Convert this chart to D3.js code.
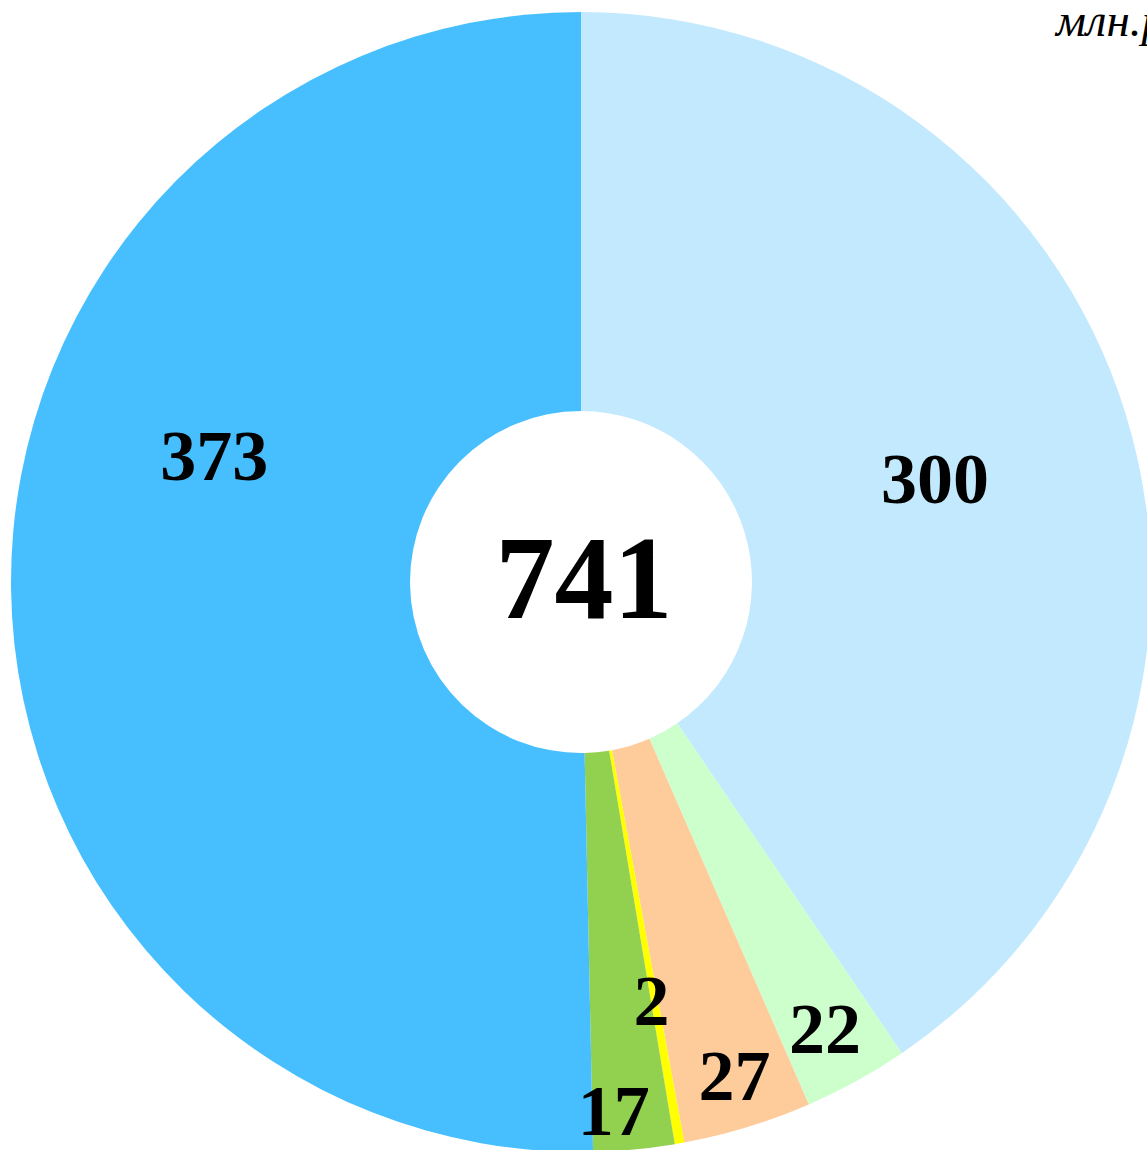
<!DOCTYPE html>
<html>
<head>
<meta charset="utf-8">
<script src="https://cdn.jsdelivr.net/npm/d3@7"></script>
<style>
  body { margin: 0; background: #fff; overflow: hidden; }
  svg { display: block; }
</style>
</head>
<body>
<div id="chart"></div>
<script>
// data
var values = [300, 22, 27, 2, 17, 373];
var colors = ["#C2E9FD", "#CCFFCC", "#FECB9B", "#FFFF00", "#92D050", "#47BFFF"];
var total = 741;
var unitLabel = "млн.руб.";

// label placement (radius from centre, angle nudge in degrees)
var labelRadius = [369, 508, 516, 424, 529, 388];
var labelNudge = [0.7, 0.2, -0.3, 0.4, 1.8, 19.7];

var width = 1147, height = 1150;
var cx = 581, cy = 582;
var outerR = 570, innerR = 171;

var svg = d3.select("#chart")
  .append("svg")
  .attr("width", width)
  .attr("height", height);

var g = svg.append("g")
  .attr("transform", "translate(" + cx + "," + cy + ")");

var pie = d3.pie().sort(null).value(function(d) { return d; });
var arc = d3.arc().innerRadius(innerR).outerRadius(outerR);

var arcs = pie(values);

g.selectAll("path")
  .data(arcs)
  .enter()
  .append("path")
  .attr("d", arc)
  .style("fill", function(d, i) { return colors[i]; });

// slice labels
g.selectAll("text.lbl")
  .data(arcs)
  .enter()
  .append("text")
  .attr("class", "lbl")
  .attr("x", function(d, i) {
    var a = (d.startAngle + d.endAngle) / 2 + labelNudge[i] * Math.PI / 180;
    return Math.sin(a) * labelRadius[i];
  })
  .attr("y", function(d, i) {
    var a = (d.startAngle + d.endAngle) / 2 + labelNudge[i] * Math.PI / 180;
    return -Math.cos(a) * labelRadius[i];
  })
  .attr("dy", "0.35em")
  .attr("text-anchor", "middle")
  .style("font-family", "'Liberation Serif', 'Times New Roman', serif")
  .style("font-weight", "bold")
  .style("font-size", "72px")
  .style("fill", "#000")
  .text(function(d) { return d.data; });

// total in the hole
g.append("text")
  .attr("x", 3)
  .attr("y", 36)
  .attr("text-anchor", "middle")
  .style("font-family", "'Liberation Serif', 'Times New Roman', serif")
  .style("font-weight", "bold")
  .style("font-size", "118px")
  .style("fill", "#000")
  .text(total);

// unit label (runs off the right edge, as in the original)
svg.append("text")
  .attr("x", 1056)
  .attr("y", 36)
  .style("font-family", "'Liberation Serif', 'Times New Roman', serif")
  .style("font-style", "italic")
  .style("font-size", "47px")
  .style("fill", "#000")
  .text(unitLabel);
</script>
</body>
</html>
